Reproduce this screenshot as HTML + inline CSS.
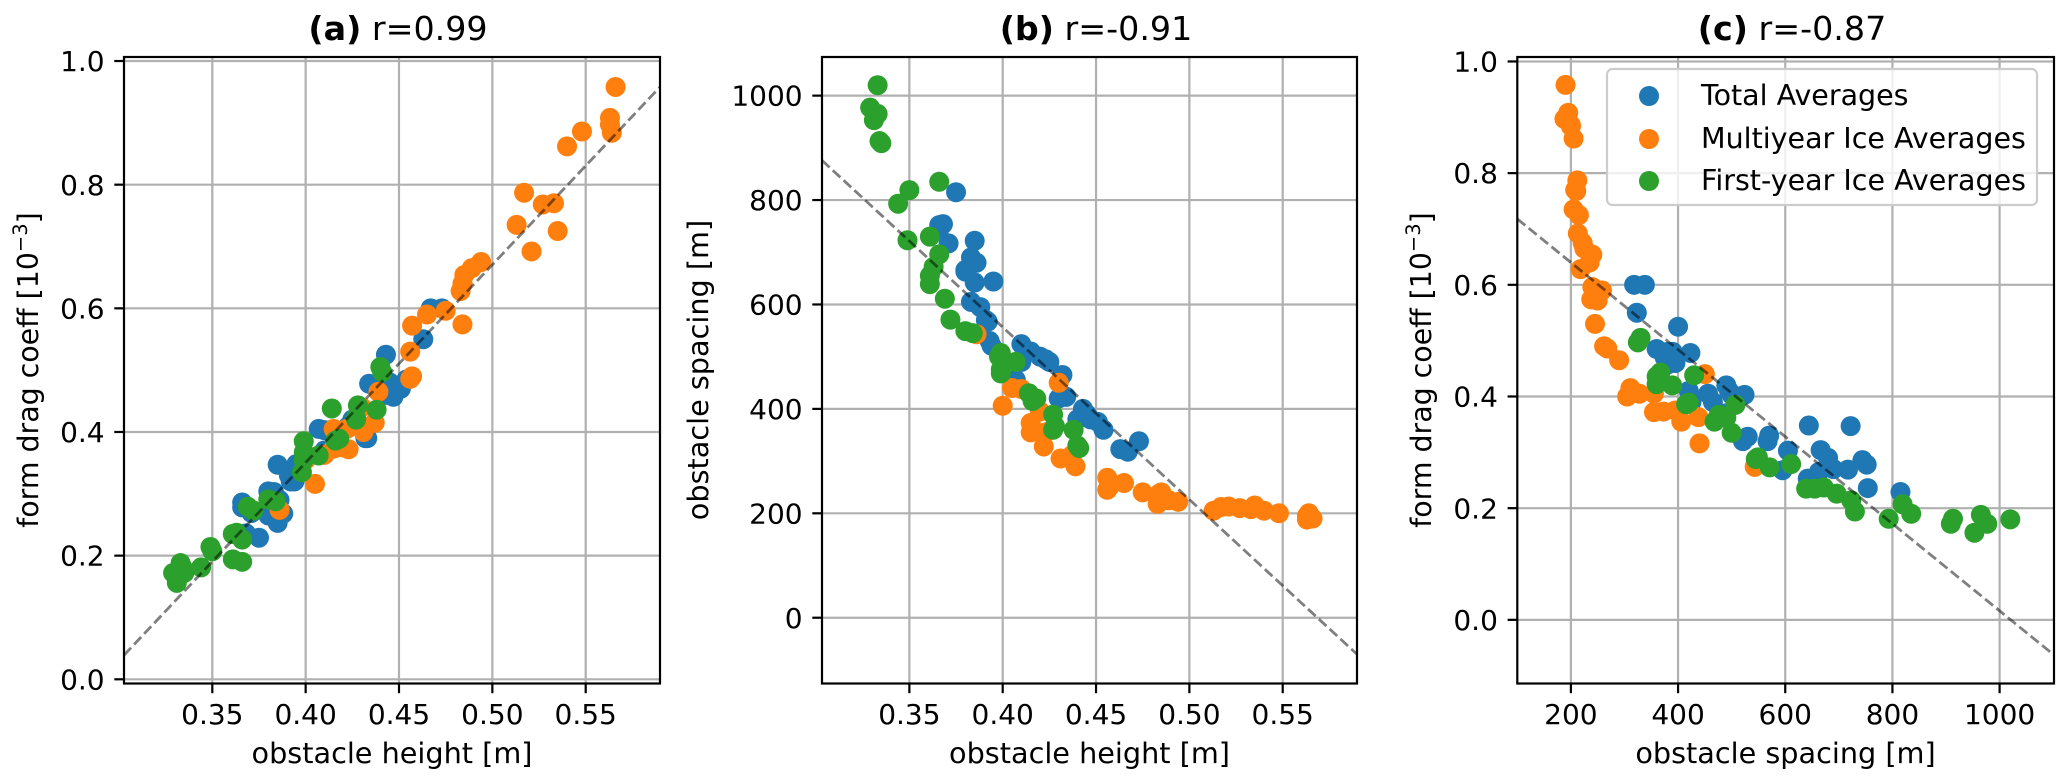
<!DOCTYPE html>
<html lang="en">
<head>
<meta charset="utf-8">
<title>Form drag scatter panels</title>
<style>
html,body{margin:0;padding:0;background:#fff;}
svg{display:block;font-family:"DejaVu Sans","Liberation Sans",sans-serif;}
text{fill:#000;}
</style>
</head>
<body>
<svg id="figure" width="2067" height="783" viewBox="0 0 2067 783" xmlns="http://www.w3.org/2000/svg">
  <rect width="2067" height="783" fill="#fff"/>
  <defs>
    <clipPath id="clip-a"><rect x="124" y="57" width="536" height="626.5"/></clipPath>
    <clipPath id="clip-b"><rect x="822" y="57" width="535" height="626.5"/></clipPath>
    <clipPath id="clip-c"><rect x="1517.3" y="57" width="536.7" height="626.5"/></clipPath>
  </defs>
  <g id="panel-a"></g>
  <g id="panel-b"></g>
  <g id="panel-c"></g>

  <text x="398" y="40" font-size="33.3" text-anchor="middle"><tspan font-weight="bold">(a)</tspan> r=0.99</text>
  <text x="1096" y="40" font-size="33.3" text-anchor="middle"><tspan font-weight="bold">(b)</tspan> r=-0.91</text>
  <text x="1792" y="40" font-size="33.3" text-anchor="middle"><tspan font-weight="bold">(c)</tspan> r=-0.87</text>

  <text x="392" y="763" font-size="28.7" text-anchor="middle">obstacle height [m]</text>
  <text x="1089.5" y="763" font-size="28.7" text-anchor="middle">obstacle height [m]</text>
  <text x="1785.5" y="763" font-size="28.7" text-anchor="middle">obstacle spacing [m]</text>

  <text transform="translate(38 370) rotate(-90)" font-size="28.4" text-anchor="middle">form drag coeff [10<tspan font-size="19.5" dy="-11">−3</tspan><tspan dy="11">]</tspan></text>
  <text transform="translate(708 370) rotate(-90)" font-size="28.7" text-anchor="middle">obstacle spacing [m]</text>
  <text transform="translate(1431 370) rotate(-90)" font-size="28.4" text-anchor="middle">form drag coeff [10<tspan font-size="19.5" dy="-11">−3</tspan><tspan dy="11">]</tspan></text>

  <g id="legend">
    <rect x="1607" y="69" width="430" height="136" rx="5.5" fill="#fff" fill-opacity="0.8" stroke="#ccc" stroke-width="2.2"/>
    <circle cx="1649" cy="96" r="10" fill="#1f77b4"/>
    <text x="1701" y="105" font-size="28.5">Total Averages</text>
    <circle cx="1649" cy="139" r="10" fill="#ff7f0e"/>
    <text x="1701" y="148" font-size="28.5">Multiyear Ice Averages</text>
    <circle cx="1649" cy="181" r="10" fill="#2ca02c"/>
    <text x="1701" y="190" font-size="28.5">First-year Ice Averages</text>
  </g>
</svg>
<script>
// Obstacle height [m], obstacle spacing [m], form drag coeff [1e-3]
const totalHeight = [.366,.366,.371,.375,.368,.383,.380,.385,.380,.386,.385,.395,.383,.388,.392,.393,.394,.410,.420,.410,.407,.432,.433,.430,.443,.447,.451,.434,.443,.463,.467,.473,.454,.440,.445,.423,.391,.425,.415];
const totalSpacing = [752,744,717,815,754,690,663,642,666,680,722,644,605,595,567,530,521,524,500,490,456,465,425,420,395,380,375,423,400,323,318,338,360,380,390,495,570,490,510];
const totalDrag = [.278,.286,.269,.229,.236,.270,.265,.253,.304,.290,.347,.348,.303,.268,.320,.328,.320,.403,.403,.370,.405,.390,.390,.410,.460,.457,.470,.478,.525,.550,.600,.600,.485,.480,.480,.410,.330,.420,.400];

const multiHeight = [.566,.563,.563,.564,.548,.540,.517,.513,.521,.527,.533,.535,.494,.489,.485,.484,.483,.484,.475,.457,.456,.457,.456,.465,.439,.437,.430,.423,.422,.415,.415,.420,.405,.386,.400,.410,.431];
const multiSpacing = [190,195,188,200,200,205,212,205,213,210,208,215,222,225,240,235,218,238,240,250,245,262,268,258,290,311,450,355,328,355,373,395,440,543,406,438,305];
const multiDrag = [.958,.908,.897,.884,.886,.862,.787,.735,.692,.768,.770,.725,.675,.665,.654,.640,.628,.574,.596,.572,.530,.490,.486,.590,.465,.415,.440,.372,.405,.405,.373,.375,.316,.274,.355,.363,.400];

const firstHeight = [.333,.329,.333,.331,.334,.335,.344,.350,.366,.361,.349,.361,.363,.361,.366,.369,.372,.380,.384,.398,.399,.399,.399,.407,.414,.416,.418,.427,.428,.438,.440,.441,.427];
const firstSpacing = [1020,977,965,953,913,909,793,819,835,730,723,655,672,639,696,611,571,549,545,500,468,476,507,490,430,415,420,360,367,360,330,325,389];
const firstDrag = [.180,.172,.188,.156,.181,.172,.181,.207,.190,.194,.214,.235,.237,.235,.226,.279,.273,.291,.288,.335,.355,.367,.385,.362,.438,.386,.389,.422,.443,.436,.505,.497,.420];

const heightTicks = [0.35,0.40,0.45,0.50,0.55];
const dragTicks = [0.0,0.2,0.4,0.6,0.8,1.0];
const spacingTicks = [0,200,400,600,800,1000];
const spacingTicksX = [200,400,600,800,1000];

const fitA = [[0.3027,0.039],[0.5898,0.958]];
const fitB = [[0.3032,876],[0.5898,-70]];
const fitC = [[100,0.718],[1101.5,-0.063]];

const SVGNS = 'http://www.w3.org/2000/svg';

function el(parent, tag, attrs, txt) {
  const node = document.createElementNS(SVGNS, tag);
  for (const k in attrs) node.setAttribute(k, attrs[k]);
  if (txt !== undefined) node.textContent = txt;
  parent.appendChild(node);
  return node;
}

function linear(d0, d1, r0, r1) {
  return v => r0 + (v - d0) * (r1 - r0) / (d1 - d0);
}

function drawPanel(cfg) {
  const g = document.getElementById(cfg.id);
  const x = linear(cfg.xd[0], cfg.xd[1], cfg.xr[0], cfg.xr[1]);
  const y = linear(cfg.yd[0], cfg.yd[1], cfg.yr[0], cfg.yr[1]);

  cfg.xt.forEach(t => {
    const line = el(g, 'line', {x1:x(t), x2:x(t), y1:cfg.yr[1], y2:cfg.yr[0], stroke:'#b0b0b0', 'stroke-width':2.2});
    
    
  });
  cfg.yt.forEach(t => {
    const line = el(g, 'line', {x1:cfg.xr[0], x2:cfg.xr[1], y1:y(t), y2:y(t), stroke:'#b0b0b0', 'stroke-width':2.2});
    
    
  });

  cfg.series.forEach(s => {
    s.xs.forEach((v, i) => {
      const dot = el(g, 'circle', {cx:x(v), cy:y(s.ys[i]), r:10, fill:s.color, 'clip-path':'url(#' + cfg.clip + ')'});
      
      
    });
  });

  const fit = el(g, 'line', {x1:x(cfg.fit[0][0]), y1:y(cfg.fit[0][1]), x2:x(cfg.fit[1][0]), y2:y(cfg.fit[1][1]), stroke:'#000', 'stroke-opacity':0.5, 'stroke-width':2.8, 'stroke-dasharray':'10.3 4.4', 'clip-path':'url(#' + cfg.clip + ')'});
  
  

  const spine = el(g, 'rect', {x:cfg.xr[0], y:cfg.yr[1], width:cfg.xr[1]-cfg.xr[0], height:cfg.yr[0]-cfg.yr[1], fill:'none', stroke:'#000', 'stroke-width':2.2});
  
  

  cfg.xt.forEach(t => {
    const tick = el(g, 'line', {x1:x(t), x2:x(t), y1:cfg.yr[0], y2:cfg.yr[0]+9.7, stroke:'#000', 'stroke-width':2.2});
    
    
    const label = el(g, 'text', {x:x(t), y:724, 'font-size':28, 'text-anchor':'middle'}, cfg.xf(t));
    
    
  });
  cfg.yt.forEach(t => {
    const tick = el(g, 'line', {x1:cfg.xr[0]-9.7, x2:cfg.xr[0], y1:y(t), y2:y(t), stroke:'#000', 'stroke-width':2.2});
    
    
    const label = el(g, 'text', {x:cfg.xr[0]-19.4, y:y(t)+10.1, 'font-size':28, 'text-anchor':'end'}, cfg.yf(t));
    
    
  });
}

const f2 = t => t.toFixed(2);
const f1 = t => t.toFixed(1);
const f0 = t => String(t);
const BLUE = '#1f77b4', ORANGE = '#ff7f0e', GREEN = '#2ca02c';

drawPanel({
  id:'panel-a', clip:'clip-a',
  xd:[0.3027,0.5898], xr:[124,660], yd:[-0.0068,1.0065], yr:[683.5,57],
  xt:heightTicks, yt:dragTicks, xf:f2, yf:f1, fit:fitA,
  series:[
    {name:'total', color:BLUE, xs:totalHeight, ys:totalDrag},
    {name:'multiyear', color:ORANGE, xs:multiHeight, ys:multiDrag},
    {name:'first-year', color:GREEN, xs:firstHeight, ys:firstDrag}
  ]
});
drawPanel({
  id:'panel-b', clip:'clip-b',
  xd:[0.3032,0.5898], xr:[822,1357], yd:[-126,1074], yr:[683.5,57],
  xt:heightTicks, yt:spacingTicks, xf:f2, yf:f0, fit:fitB,
  series:[
    {name:'total', color:BLUE, xs:totalHeight, ys:totalSpacing},
    {name:'multiyear', color:ORANGE, xs:multiHeight, ys:multiSpacing},
    {name:'first-year', color:GREEN, xs:firstHeight, ys:firstSpacing}
  ]
});
drawPanel({
  id:'panel-c', clip:'clip-c',
  xd:[100,1101.5], xr:[1517.3,2054], yd:[-0.114,1.008], yr:[683.5,57],
  xt:spacingTicksX, yt:dragTicks, xf:f0, yf:f1, fit:fitC,
  series:[
    {name:'total', color:BLUE, xs:totalSpacing, ys:totalDrag},
    {name:'multiyear', color:ORANGE, xs:multiSpacing, ys:multiDrag},
    {name:'first-year', color:GREEN, xs:firstSpacing, ys:firstDrag}
  ]
});
</script>
</body>
</html>
